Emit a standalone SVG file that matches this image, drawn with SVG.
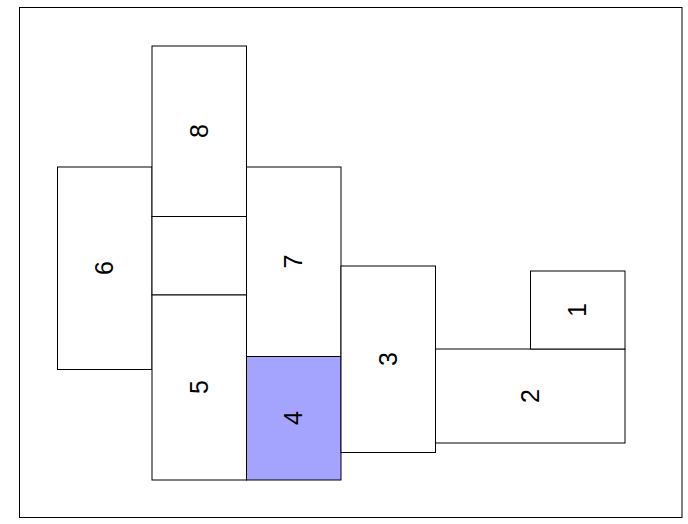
<svg xmlns="http://www.w3.org/2000/svg" width="688" height="524" viewBox="0 0 688 524">
<style>
.r{fill:#ffffff;stroke:#000000;stroke-width:1}
.hl{fill:#a4a4ff}
.t{font-family:"Liberation Sans",Arial,sans-serif;font-size:25px;fill:#000000;text-anchor:middle}
</style>
<rect x="0" y="0" width="688" height="524" fill="#ffffff"/>
<rect x="19.5" y="7.5" width="662.5" height="510" fill="none" stroke="#000" stroke-width="1"/>
<g id="node6"><rect class="r" x="57.5" y="167" width="94.5" height="202.5"/><text class="t" transform="translate(104.5,268) rotate(-90)" dy="0.35em">6</text></g>
<g id="node8"><rect class="r" x="152" y="46" width="94.5" height="170.5"/><text class="t" transform="translate(199.5,131) rotate(-90)" dy="0.35em">8</text></g>
<g id="gap"><rect class="r" x="152" y="216.5" width="94.5" height="78.5"/></g>
<g id="node5"><rect class="r" x="152" y="295" width="94.5" height="185"/><text class="t" transform="translate(199.5,387) rotate(-90)" dy="0.35em">5</text></g>
<g id="node7"><rect class="r" x="246.5" y="167" width="94.5" height="189.5"/><text class="t" transform="translate(293.5,261.5) rotate(-90)" dy="0.35em">7</text></g>
<g id="node4"><rect class="r hl" x="246.5" y="356.5" width="94.5" height="123.5"/><text class="t" transform="translate(293.5,418) rotate(-90)" dy="0.35em">4</text></g>
<g id="node3"><rect class="r" x="341" y="266" width="94.5" height="186.5"/><text class="t" transform="translate(388,359) rotate(-90)" dy="0.35em">3</text></g>
<g id="node2"><rect class="r" x="435.5" y="349" width="189.5" height="94"/><text class="t" transform="translate(530,396) rotate(-90)" dy="0.35em">2</text></g>
<g id="node1"><rect class="r" x="530.5" y="271" width="94.5" height="78"/><text class="t" transform="translate(577.5,310) rotate(-90)" dy="0.35em">1</text></g>
<g id="connectors"></g>
</svg>
